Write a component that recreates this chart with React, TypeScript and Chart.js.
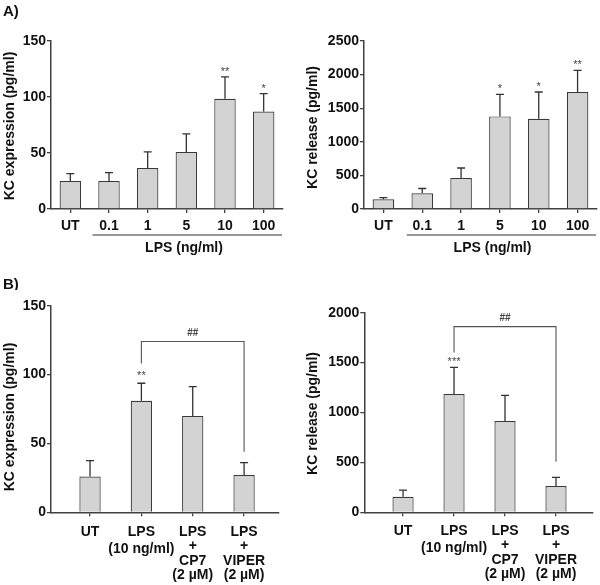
import React, { useEffect, useRef } from 'react';
import { Chart, registerables } from 'chart.js';

Chart.register(...registerables);

// ---------- DATA ----------
const doseLabels = ['UT', '0.1', '1', '5', '10', '100'];
const expressionA = [25, 25, 36.5, 51, 98.5, 87];
const expressionAErr = [6.5, 7.5, 14.5, 16, 19.5, 16];
const expressionAStars = ['', '', '', '', '**', '*'];

const releaseA = [145, 235, 460, 1378, 1344, 1740];
const releaseAErr = [25, 70, 150, 328, 397, 322];
const releaseAStars = ['', '', '', '*', '*', '**'];

const treatmentLabels = [
  ['UT'],
  ['LPS', '(10 ng/ml)'],
  ['LPS', '+', 'CP7', '(2 µM)'],
  ['LPS', '+', 'VIPER', '(2 µM)'],
];
const expressionB = [26, 81, 70, 27];
const expressionBErr = [11.5, 12.7, 21.2, 9];
const expressionBStars = ['', '**', '', ''];
const expressionBBracket = { from: 1, to: 3, top: 124, leftEnd: 108, rightEnd: 44, label: '##' };

const releaseB = [156, 1185, 915, 263];
const releaseBErr = [67, 268, 257, 87];
const releaseBStars = ['', '***', '', ''];
const releaseBBracket = { from: 1, to: 3, top: 1860, leftEnd: 1600, rightEnd: 507, label: '##' };

const groupLabel = 'LPS (ng/ml)';

// ---------- STYLE ----------
const FONT = "'Liberation Sans', Arial, Helvetica, sans-serif";
const AXIS = '#404040';
const BAR_FILL = '#d3d3d3';
const BAR_EDGE = '#3a3a3a';

type Bracket = { from: number; to: number; top: number; leftEnd: number; rightEnd: number; label: string };

type PanelCfg = {
  x: number; y: number; w: number; h: number;
  area: { left: number; right: number; top: number; bottom: number };
  labels: string[][];
  values: number[]; errs: number[]; stars: string[];
  yMax: number; yStep: number;
  title: string; titleX: number; titleY: number;
  xLinear?: { min: number; max: number };
  barPct: number;
  labelY: number;
  group?: { startOffset: number; lineY: number; labelX: number; labelY: number };
  bracket?: Bracket;
  letters?: { text: string; x: number; y: number }[];
  starGap: number;
};

function makeChart(canvas: HTMLCanvasElement, c: PanelCfg) {
  const linear = !!c.xLinear;
  const decorate = {
    id: 'decorate',
    afterDatasetsDraw(chart: any) {
      const ctx = chart.ctx as CanvasRenderingContext2D;
      const ys = chart.scales.y;
      const meta = chart.getDatasetMeta(0);
      ctx.save();
      meta.data.forEach((bar: any, i: number) => {
        const top = bar.y;
        const ey = ys.getPixelForValue(c.values[i] + c.errs[i]);
        ctx.strokeStyle = '#333';
        ctx.lineWidth = 1.3;
        ctx.beginPath();
        ctx.moveTo(bar.x, top);
        ctx.lineTo(bar.x, ey);
        ctx.moveTo(bar.x - 4, ey);
        ctx.lineTo(bar.x + 4, ey);
        ctx.stroke();
        if (c.stars[i]) {
          ctx.fillStyle = '#444';
          ctx.font = `11px ${FONT}`;
          ctx.textAlign = 'center';
          ctx.textBaseline = 'alphabetic';
          ctx.fillText(c.stars[i], bar.x, ey - c.starGap);
        }
      });
      ctx.restore();
    },
    afterDraw(chart: any) {
      const ctx = chart.ctx as CanvasRenderingContext2D;
      const ys = chart.scales.y;
      const area = chart.chartArea;
      const meta = chart.getDatasetMeta(0);
      ctx.save();
      ctx.fillStyle = '#111';
      ctx.textAlign = 'center';
      ctx.textBaseline = 'middle';
      ctx.font = `bold 14px ${FONT}`;
      meta.data.forEach((bar: any, i: number) => {
        const lines = c.labels[i];
        const lh = lines.length === 2 ? 17.5 : 14.5;
        lines.forEach((t, k) => {
          ctx.fillText(t, bar.x, area.bottom + c.labelY + k * lh);
        });
      });
      ctx.save();
      ctx.translate(c.titleX, c.titleY);
      ctx.rotate(-Math.PI / 2);
      ctx.fillText(c.title, 0, 0);
      ctx.restore();
      if (c.group) {
        const g = c.group;
        const x0 = meta.data[1].x - g.startOffset;
        ctx.strokeStyle = '#333';
        ctx.lineWidth = 1.2;
        ctx.beginPath();
        ctx.moveTo(x0, g.lineY);
        ctx.lineTo(area.right - 1, g.lineY);
        ctx.stroke();
        ctx.fillText(groupLabel, g.labelX, g.labelY);
      }
      if (c.bracket) {
        const b = c.bracket;
        const xl = meta.data[b.from].x;
        const xr = meta.data[b.to].x;
        const yt = ys.getPixelForValue(b.top);
        ctx.strokeStyle = '#555';
        ctx.lineWidth = 1.1;
        ctx.beginPath();
        ctx.moveTo(xl, ys.getPixelForValue(b.leftEnd));
        ctx.lineTo(xl, yt);
        ctx.lineTo(xr, yt);
        ctx.lineTo(xr, ys.getPixelForValue(b.rightEnd));
        ctx.stroke();
        ctx.fillStyle = '#444';
        ctx.font = `bold 10px ${FONT}`;
        ctx.fillText(b.label, (xl + xr) / 2, yt - 8);
      }
      if (c.letters) {
        ctx.fillStyle = '#111';
        ctx.textAlign = 'left';
        ctx.font = `bold 15px ${FONT}`;
        c.letters.forEach((l) => ctx.fillText(l.text, l.x, l.y));
      }
      ctx.restore();
    },
  };

  const data = linear
    ? c.values.map((v, i) => ({ x: i, y: v }))
    : c.values;

  const xScale: any = linear
    ? {
        type: 'linear',
        offset: false,
        min: c.xLinear!.min,
        max: c.xLinear!.max,
        afterBuildTicks: (s: any) => {
          s.ticks = c.labels.map((_, i) => ({ value: i }));
        },
      }
    : { type: 'category', offset: true };

  Object.assign(xScale, {
    grid: {
      display: true, drawOnChartArea: false, drawTicks: true, tickLength: 4,
      color: AXIS, lineWidth: 1.3, offset: false,
    },
    border: { display: true, color: AXIS, width: 1.5 },
    ticks: { callback: () => '', autoSkip: false },
    afterFit: (s: any) => { s.height = c.h - c.area.bottom; },
  });

  return new Chart(canvas, {
    type: 'bar',
    data: {
      labels: linear ? undefined : c.labels.map((l) => l.join(' ')),
      datasets: [
        {
          data: data as any,
          backgroundColor: BAR_FILL,
          borderColor: BAR_EDGE,
          borderWidth: 1.2,
          barPercentage: c.barPct,
          categoryPercentage: 1,
        },
      ],
    },
    options: {
      responsive: false,
      animation: false,
      events: [],
      layout: { padding: { left: 0, top: c.area.top, right: c.w - c.area.right, bottom: 0 } },
      plugins: { legend: { display: false }, tooltip: { enabled: false }, title: { display: false } },
      scales: {
        x: xScale,
        y: {
          min: 0,
          max: c.yMax,
          ticks: {
            stepSize: c.yStep,
            color: '#111',
            padding: 1,
            font: { family: FONT, size: 14, weight: 'bold' },
            callback: (v: any) => String(v),
          },
          grid: {
            display: true, drawOnChartArea: false, drawTicks: true, tickLength: 4,
            color: AXIS, lineWidth: 1.3,
          },
          border: { display: true, color: AXIS, width: 1.5 },
          afterFit: (s: any) => { s.width = c.area.left; },
        },
      },
    },
    plugins: [decorate],
  });
}

function Panel({ cfg }: { cfg: PanelCfg }) {
  const ref = useRef<HTMLCanvasElement>(null);
  useEffect(() => {
    if (!ref.current) return;
    const ch = makeChart(ref.current, cfg);
    return () => ch.destroy();
  }, [cfg]);
  return (
    <canvas
      ref={ref}
      width={cfg.w}
      height={cfg.h}
      style={{ position: 'absolute', left: cfg.x, top: cfg.y, width: cfg.w, height: cfg.h }}
    />
  );
}

const panels: PanelCfg[] = [
  {
    x: 0, y: 0, w: 300, h: 290,
    area: { left: 51, right: 283, top: 41, bottom: 209 },
    labels: doseLabels.map((l) => [l]),
    values: expressionA, errs: expressionAErr, stars: expressionAStars,
    yMax: 150, yStep: 50,
    title: 'KC expression (pg/ml)', titleX: 10, titleY: 126,
    barPct: 0.555, labelY: 17,
    group: { startOffset: 16.5, lineY: 235, labelX: 184, labelY: 248.5 },
    letters: [{ text: 'A)', x: 3, y: 12 }, { text: 'B)', x: 3, y: 285 }],
    starGap: 2,
  },
  {
    x: 300, y: 0, w: 300, h: 290,
    area: { left: 64, right: 297, top: 41, bottom: 209 },
    labels: doseLabels.map((l) => [l]),
    values: releaseA, errs: releaseAErr, stars: releaseAStars,
    yMax: 2500, yStep: 500,
    title: 'KC release (pg/ml)', titleX: 13, titleY: 127.5,
    barPct: 0.555, labelY: 17,
    group: { startOffset: 15.5, lineY: 235, labelX: 192.5, labelY: 248.5 },
    starGap: 2,
  },
  {
    x: 0, y: 290, w: 300, h: 295,
    area: { left: 51, right: 279, top: 15.7, bottom: 222.3 },
    labels: treatmentLabels,
    values: expressionB, errs: expressionBErr, stars: expressionBStars,
    yMax: 150, yStep: 50,
    title: 'KC expression (pg/ml)', titleX: 10, titleY: 127,
    xLinear: { min: -0.76, max: 3.68 },
    barPct: 0.415, labelY: 19.4,
    bracket: expressionBBracket,
    starGap: 4,
  },
  {
    x: 300, y: 290, w: 300, h: 295,
    area: { left: 64.3, right: 292.7, top: 22.7, bottom: 222.3 },
    labels: treatmentLabels,
    values: releaseB, errs: releaseBErr, stars: releaseBStars,
    yMax: 2000, yStep: 500,
    title: 'KC release (pg/ml)', titleX: 13, titleY: 123.5,
    xLinear: { min: -0.76, max: 3.72 },
    barPct: 0.415, labelY: 18.5,
    bracket: releaseBBracket,
    starGap: 2,
  },
];

export default function App() {
  return (
    <div style={{ position: 'fixed', left: 0, top: 0, width: 600, height: 585, background: '#fff' }}>
      {panels.map((p, i) => (
        <Panel key={i} cfg={p} />
      ))}
    </div>
  );
}
